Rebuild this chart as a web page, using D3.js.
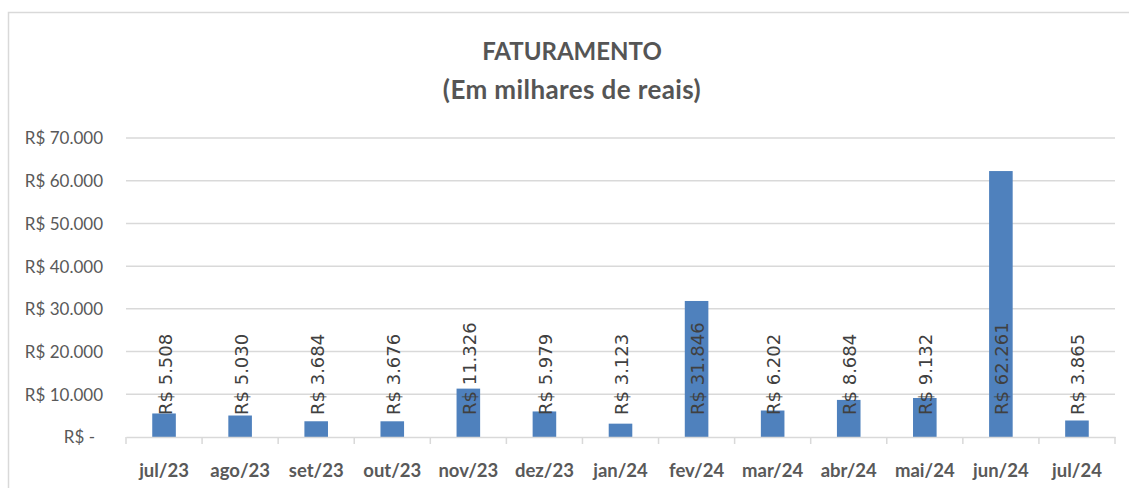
<!DOCTYPE html>
<html>
<head>
<meta charset="utf-8">
<script src="https://cdn.jsdelivr.net/npm/d3@7"></script>
<style>
  html, body { margin: 0; padding: 0; background: #fff; }
  svg { display: block; }
</style>
</head>
<body>
<svg id="chart" width="1129" height="488"></svg>
<script>
const categories = ["jul/23","ago/23","set/23","out/23","nov/23","dez/23","jan/24","fev/24","mar/24","abr/24","mai/24","jun/24","jul/24"];
const values = [5508, 5030, 3684, 3676, 11326, 5979, 3123, 31846, 6202, 8684, 9132, 62261, 3865];
const yTicks = [0, 10000, 20000, 30000, 40000, 50000, 60000, 70000];
const titleLines = ["FATURAMENTO", "(Em milhares de reais)"];

const svg = d3.select("#chart");
const W = 1129, H = 488;
const plot = { left: 126, right: 1115, top: 138, bottom: 437 };

const fmtNum = d3.formatLocale({ decimal: ",", thousands: ".", grouping: [3], currency: ["R$ ", ""] }).format(",.0f");
const money = v => v === 0 ? "R$ -" : "R$ " + fmtNum(v);

// border
svg.append("rect")
  .attr("x", 8.5).attr("y", 12.5)
  .attr("width", W + 20).attr("height", H + 20)
  .attr("fill", "none").attr("stroke", "#d9d9d9").attr("stroke-width", 1.5);

const x = d3.scaleBand().domain(categories).range([plot.left, plot.right]).padding(0);
const y = d3.scaleLinear().domain([0, 70000]).range([plot.bottom, plot.top]);

// gridlines
svg.append("g").selectAll("line").data(yTicks.filter(t => t > 0)).join("line")
  .attr("x1", plot.left).attr("x2", plot.right)
  .attr("y1", d => y(d)).attr("y2", d => y(d))
  .attr("stroke", "#d9d9d9").attr("stroke-width", 1.5);

// y axis labels
const yAxis = d3.axisLeft(y).tickValues(yTicks).tickSize(0).tickPadding(0).tickFormat(money);
const gy = svg.append("g").attr("transform", `translate(${plot.left - 23},0)`).call(yAxis);
gy.select(".domain").remove();
gy.selectAll("text")
  .attr("font-family", "Lato, 'Open Sans', sans-serif")
  .attr("font-size", 17)
  .attr("fill", "#595959")
  .attr("dx", d => d === 0 ? -8 : 0)
  .attr("dy", "0.35em");

// bars
const barW = x.bandwidth() * 0.31;
svg.append("g").selectAll("rect").data(values).join("rect")
  .attr("x", (d, i) => x(categories[i]) + x.bandwidth() / 2 - barW / 2)
  .attr("y", d => y(d))
  .attr("width", barW)
  .attr("height", d => y(0) - y(d))
  .attr("fill", "#4f81bd");

// x axis
const xAxis = d3.axisBottom(x).tickSize(0).tickPadding(0);
const gx = svg.append("g").attr("transform", `translate(0,${plot.bottom})`).call(xAxis);
gx.select(".domain").attr("stroke", "#d9d9d9").attr("stroke-width", 1.5);
gx.selectAll("text")
  .attr("font-family", "Lato, 'Open Sans', sans-serif")
  .attr("font-weight", "bold")
  .attr("font-size", 18.5)
  .attr("fill", "#595959")
  .attr("y", 40).attr("dy", 0);
// boundary tick marks
const bounds = categories.map(c => x(c)).concat([plot.right]);
svg.append("g").selectAll("line").data(bounds).join("line")
  .attr("x1", d => d).attr("x2", d => d)
  .attr("y1", plot.bottom).attr("y2", plot.bottom + 7)
  .attr("stroke", "#d9d9d9").attr("stroke-width", 1.5);

// data labels
svg.append("g").selectAll("text").data(values).join("text")
  .attr("transform", (d, i) => `translate(${x(categories[i]) + x.bandwidth() / 2 + 1},${plot.bottom - 22}) rotate(-90)`)
  .attr("dy", "0.36em")
  .attr("text-anchor", "start")
  .attr("font-family", "'DejaVu Sans', sans-serif")
  .attr("font-size", 18)
  .attr("fill", "#404040")
  .text(d => money(d));

// title
svg.append("g").selectAll("text").data(titleLines).join("text")
  .attr("x", 572)
  .attr("y", (d, i) => 60 + i * 39)
  .attr("text-anchor", "middle")
  .attr("font-family", "Lato, 'Open Sans', sans-serif")
  .attr("font-weight", "bold")
  .attr("font-size", (d, i) => i === 0 ? 24 : 26)
  .attr("letter-spacing", (d, i) => i === 0 ? 0 : 0.4)
  .attr("fill", "#555555")
  .text(d => d);
</script>
</body>
</html>
